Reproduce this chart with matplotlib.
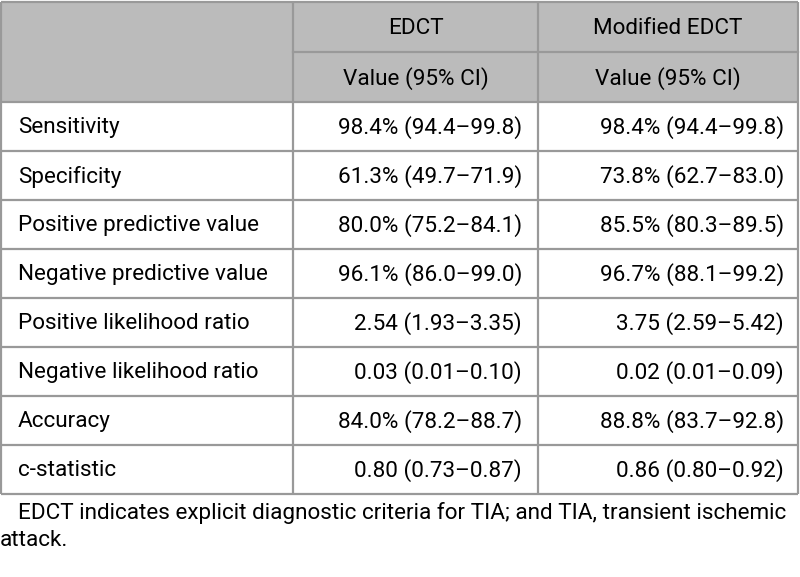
import matplotlib
matplotlib.use("Agg")
import matplotlib.pyplot as plt
from matplotlib.patches import Rectangle

plt.rcParams['font.family'] = ['Roboto', 'DejaVu Sans']

# table content
header_top = ["", "EDCT", "Modified EDCT"]
header_sub = ["", "Value (95% CI)", "Value (95% CI)"]
measures = ["Sensitivity", "Specificity", "Positive predictive value",
            "Negative predictive value", "Positive likelihood ratio",
            "Negative likelihood ratio", "Accuracy", "c-statistic"]
edct = ["98.4% (94.4\u201399.8)", "61.3% (49.7\u201371.9)", "80.0% (75.2\u201384.1)",
        "96.1% (86.0\u201399.0)", "2.54 (1.93\u20133.35)", "0.03 (0.01\u20130.10)",
        "84.0% (78.2\u201388.7)", "0.80 (0.73\u20130.87)"]
modified = ["98.4% (94.4\u201399.8)", "73.8% (62.7\u201383.0)", "85.5% (80.3\u201389.5)",
            "96.7% (88.1\u201399.2)", "3.75 (2.59\u20135.42)", "0.02 (0.01\u20130.09)",
            "88.8% (83.7\u201392.8)", "0.86 (0.80\u20130.92)"]
footnote = ["EDCT indicates explicit diagnostic criteria for TIA; and TIA, transient ischemic",
            "attack."]

W, H = 800, 577
fig = plt.figure(figsize=(W / 100, H / 100), dpi=100)
ax = fig.add_axes([0, 0, 1, 1])
ax.set_xlim(0, W)
ax.set_ylim(H, 0)
ax.axis("off")

col_x = [1, 293, 538, 798]
hdr_y = [2, 52, 102]
row_h = 49
fs = 16.2
border = "#999999"
gray = "#bbbbbb"

# header background
ax.add_patch(Rectangle((col_x[0], hdr_y[0]), col_x[-1] - col_x[0], hdr_y[2] - hdr_y[0],
                       facecolor=gray, edgecolor="none"))

# header texts
for i in (1, 2):
    cx = (col_x[i] + col_x[i + 1]) / 2
    ax.text(cx, (hdr_y[0] + hdr_y[1]) / 2 + 2, header_top[i], ha="center", va="center", fontsize=fs)
    ax.text(cx, (hdr_y[1] + hdr_y[2]) / 2 + 2, header_sub[i], ha="center", va="center", fontsize=fs)

# body rows
for r, (m, a, b) in enumerate(zip(measures, edct, modified)):
    yc = hdr_y[2] + r * row_h + row_h / 2 + 1
    ax.text(18, yc, m, ha="left", va="center", fontsize=fs)
    ax.text(522, yc, a, ha="right", va="center", fontsize=fs)
    ax.text(784, yc, b, ha="right", va="center", fontsize=fs)

bottom = hdr_y[2] + len(measures) * row_h

# grid lines
lw = 1.6
for y in [hdr_y[0], hdr_y[2]] + [hdr_y[2] + k * row_h for k in range(1, len(measures) + 1)]:
    ax.plot([col_x[0], col_x[-1]], [y, y], color=border, lw=lw, solid_capstyle="butt")
ax.plot([col_x[1], col_x[-1]], [hdr_y[1], hdr_y[1]], color=border, lw=lw)
for x in col_x:
    ax.plot([x, x], [hdr_y[0], bottom], color=border, lw=lw, solid_capstyle="butt")

# footnote
ax.text(18, 513, footnote[0], ha="left", va="center", fontsize=fs)
ax.text(0, 541, footnote[1], ha="left", va="center", fontsize=fs)

fig.savefig("out.png", dpi=100, facecolor="white")
